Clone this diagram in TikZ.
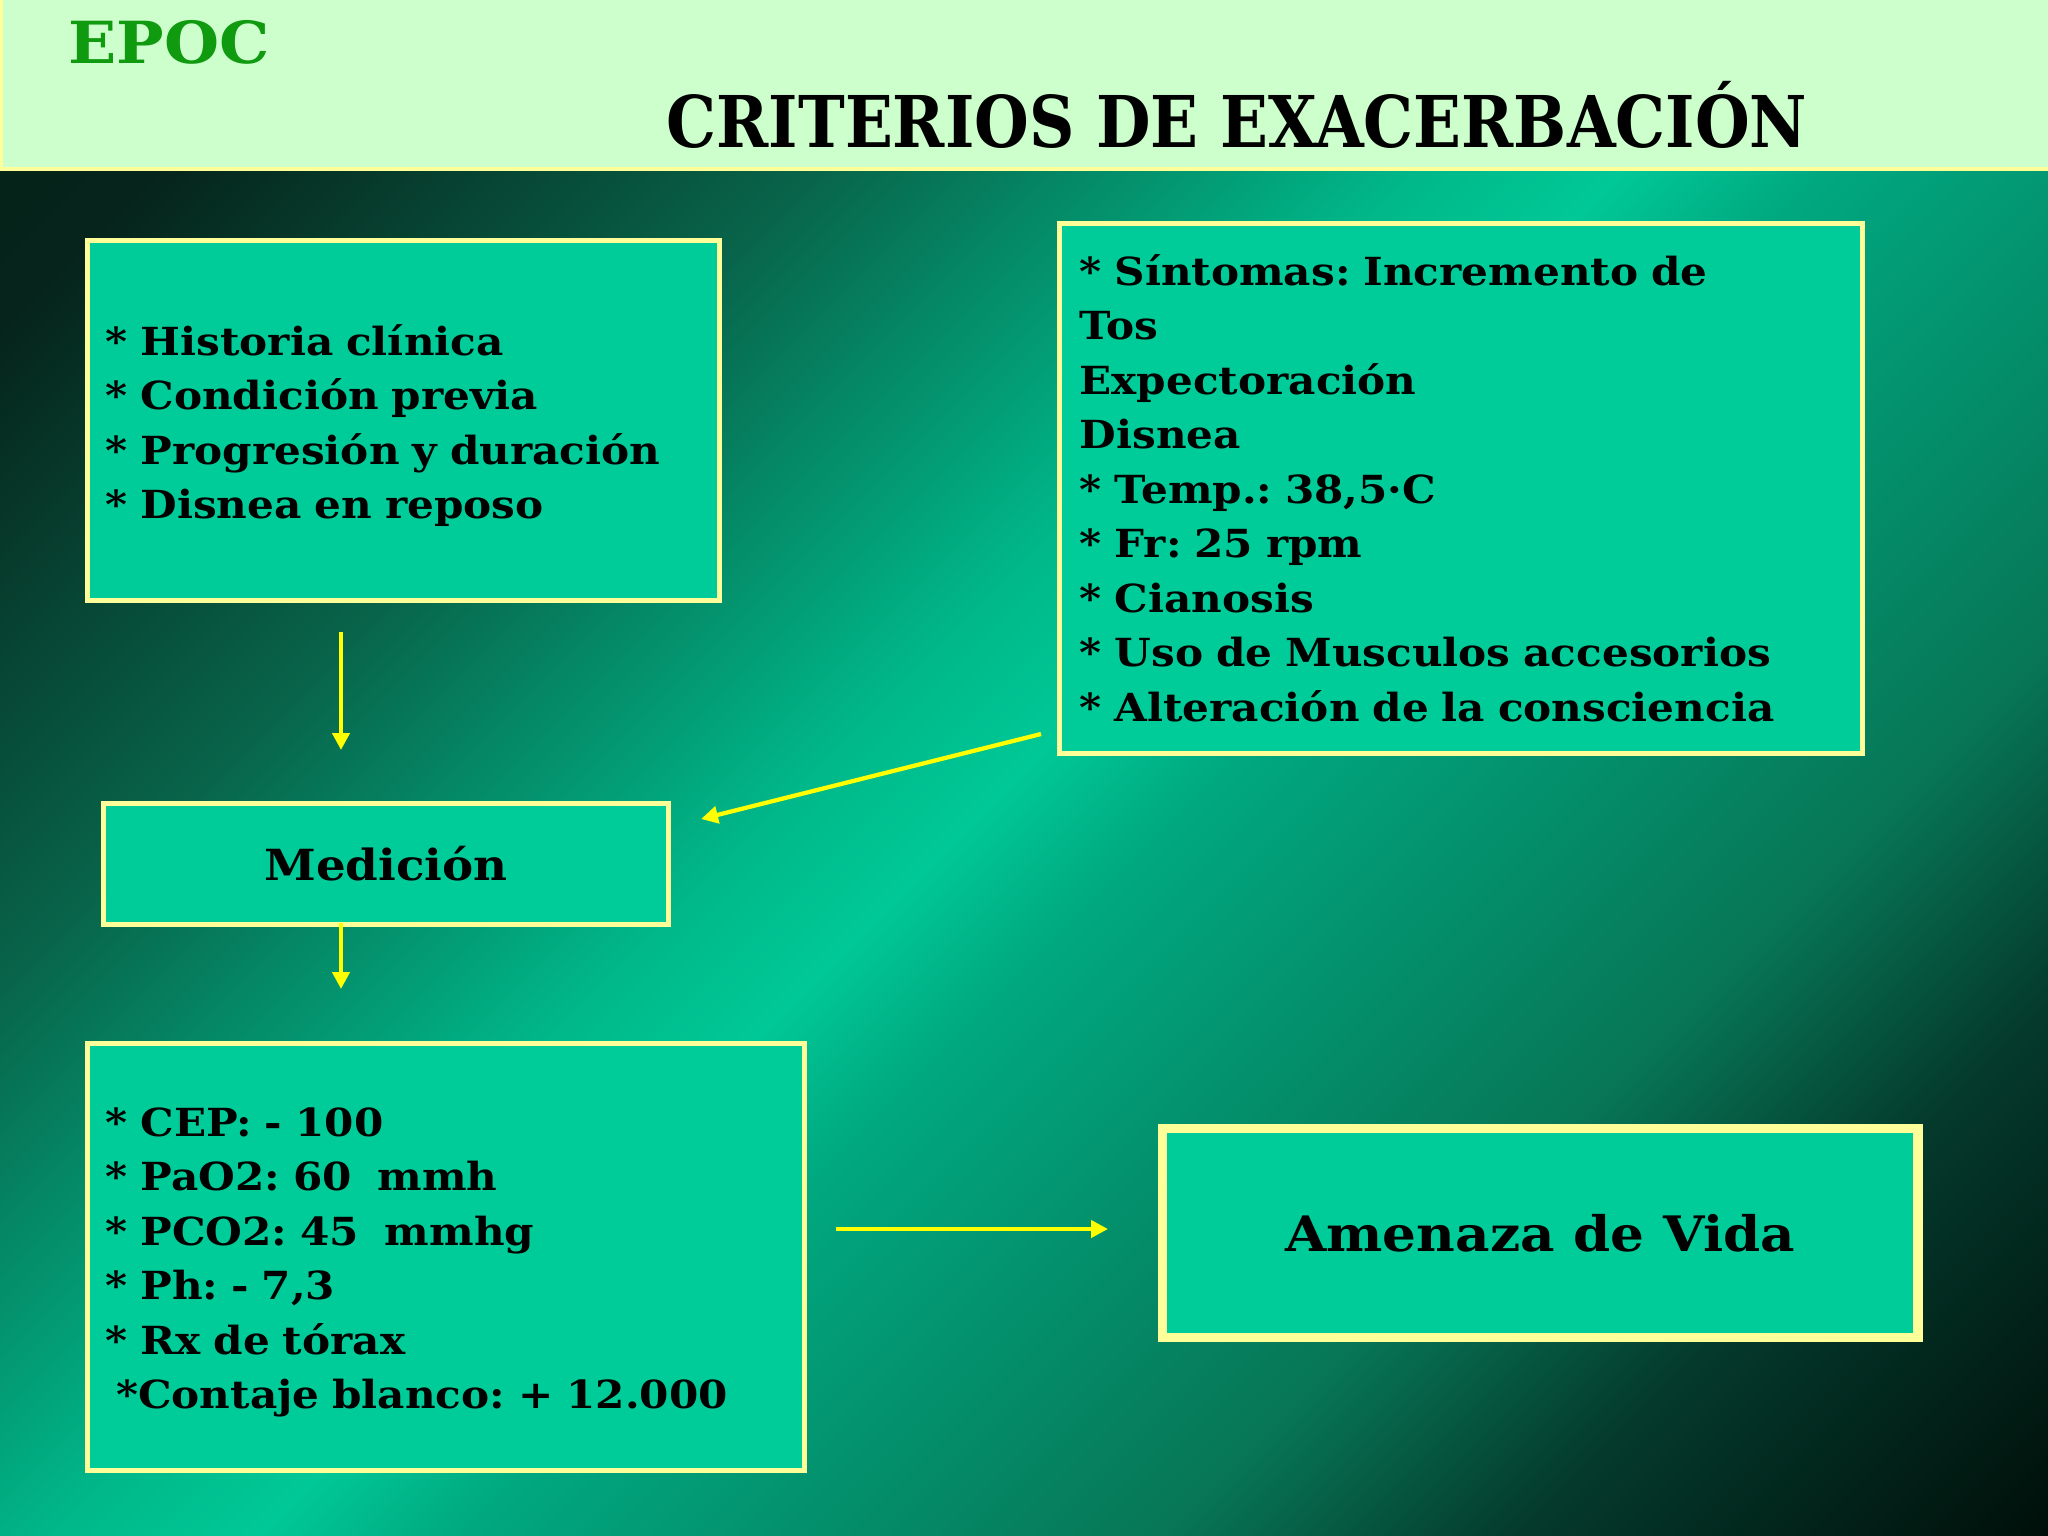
\documentclass[tikz,border=0pt]{standalone}
\usepackage{fontspec}
\setmainfont{DejaVu Serif}[FakeStretch=1.09]
\newfontfamily\titlefont{DejaVu Serif}[FakeStretch=0.88]
\usetikzlibrary{arrows.meta}
\definecolor{boxfill}{HTML}{00CC99}
\definecolor{boxline}{HTML}{FFFF99}
\definecolor{headfill}{HTML}{CCFFCC}
\definecolor{epocgreen}{HTML}{109A10}
\definecolor{arrowyellow}{HTML}{FFFF00}
\definecolor{bgA}{HTML}{000A06}
\definecolor{bgB}{HTML}{000D08}
\definecolor{bgC}{HTML}{043A2C}
\definecolor{bgD}{HTML}{077656}
\definecolor{bgE}{HTML}{00A880}
\definecolor{bgF}{HTML}{00C896}
\definecolor{bgG}{HTML}{00B88A}
\definecolor{bgH}{HTML}{08644A}
\definecolor{bgI}{HTML}{06241B}
\definecolor{bgJ}{HTML}{041C15}
\pgfdeclareverticalshading{slideshade}{100bp}{color(0bp)=(bgA); color(14bp)=(bgB);
  color(25bp)=(bgC); color(32bp)=(bgD); color(46bp)=(bgE); color(50bp)=(bgF);
  color(54bp)=(bgG); color(66bp)=(bgH); color(79bp)=(bgI); color(100bp)=(bgJ)}
\tikzset{box/.style={draw=boxline, fill=boxfill, line width=1.4pt, anchor=north west},
 boxtext/.style={anchor=base west, inner sep=0pt, align=left, text width=7.5cm,
   font=\frenchspacing\bfseries\fontsize{11}{15.5}\selectfont},
 flow/.style={draw=arrowyellow, line width=1.2pt, -{Triangle[length=0.17cm, width=0.17cm]}},
 }

\begin{document}
\begin{tikzpicture}[x=0.01cm, y=-0.01cm]
        \useasboundingbox (0,0) rectangle (2048,1536);
        % background
        \shade[shading=slideshade, shading angle=45] (0,0) rectangle (2048,1536);
        \fill[headfill] (0,0) rectangle (2048,170);
        \draw[boxline, line width=1pt] (1,-2) -- (1,169) -- (2048,169);
        \node[anchor=base west, inner sep=0pt, text=epocgreen, font=\bfseries\fontsize{16.5}{17}\selectfont]
            (epoc) at (68,63) {EPOC};
        \node[anchor=base west, inner sep=0pt, font=\titlefont\bfseries\fontsize{20.3}{21}\selectfont]
            (title) at (666,147) {CRITERIOS DE EXACERBACIÓN};

        % boxes
        \node[box, minimum width=6.32cm, minimum height=3.6cm] (hist) at (85,238) {};
        \node[boxtext] (histtxt) at (105,355)
            {* Historia clínica\\{*} Condición previa\\{*} Progresión y duración\\{*} Disnea en reposo};
        \node[box, minimum width=8.03cm, minimum height=5.3cm] (sint) at (1057,221) {};
        \node[boxtext] (sinttxt) at (1079,285)
            {* Síntomas: Incremento de\\Tos\\Expectoración\\Disnea\\{*} Temp.: 38,5·C\\
             {*} Fr: 25 rpm\\{*} Cianosis\\{*} Uso de Musculos accesorios\\{*} Alteración de la consciencia};
        \node[box, minimum width=5.65cm, minimum height=1.21cm,
            font=\bfseries\fontsize{12.2}{15}\selectfont] (med) at (101,801) {Medición};
        \node[box, minimum width=7.17cm, minimum height=4.27cm] (lab) at (85,1041) {};
        \node[boxtext] (labtxt) at (105,1136)
            {* CEP: - 100\\{*} PaO2: 60\ \ mmh\\{*} PCO2: 45\ \ mmhg\\{*} Ph: - 7,3\\{*} Rx de tórax\\
             \hspace*{3pt}*Contaje blanco: + 12.000};
        \node[box, line width=2.6pt, minimum width=7.55cm, minimum height=2.09cm,
            font=\bfseries\fontsize{13.9}{18}\selectfont] (vida) at (1158,1124) {Amenaza de Vida};

        % arrows
        \coordinate (a1) at (341,632);
        \coordinate (b1) at (341,750);
        \coordinate (a2) at (1041,734);
        \coordinate (b2) at (701,819);
        \coordinate (a3) at (341,923);
        \coordinate (b3) at (341,989);
        \coordinate (a4) at (836,1229);
        \coordinate (b4) at (1108,1229);
        \draw[flow] (a1) -- (b1);
        \draw[flow] (a2) -- (b2);
        \draw[flow] (a3) -- (b3);
        \draw[flow] (a4) -- (b4);
    \end{tikzpicture}
\end{document}
